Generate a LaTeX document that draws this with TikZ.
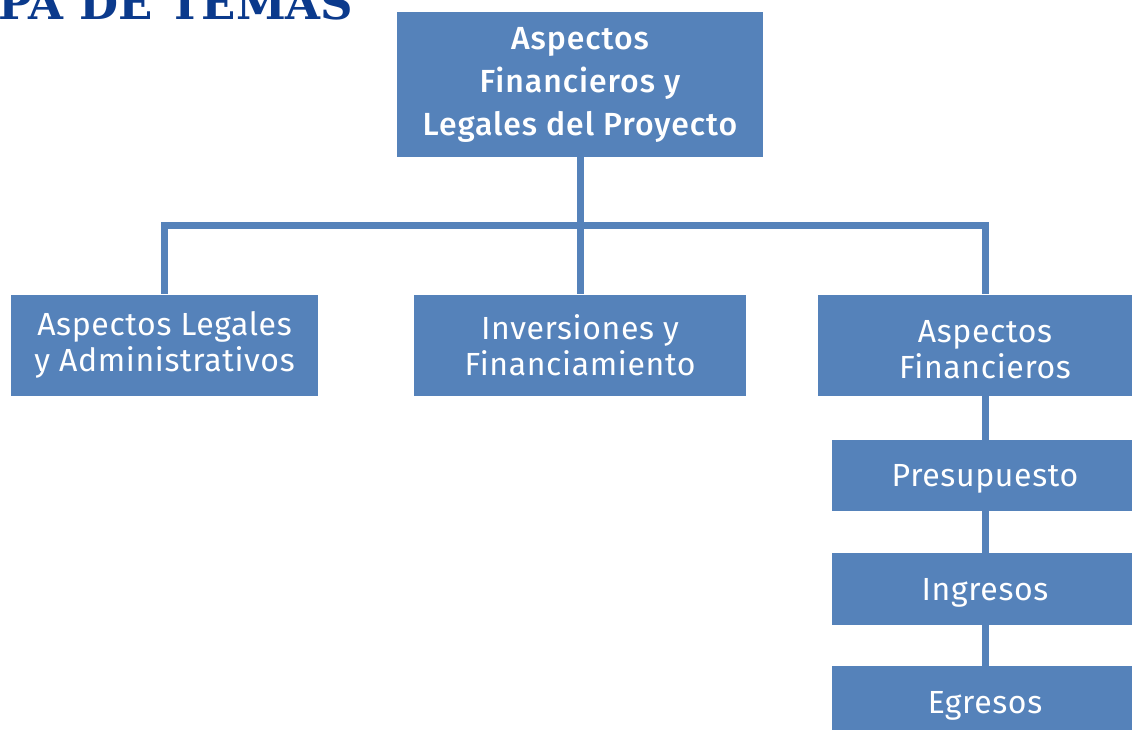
\documentclass[tikz,border=0pt]{standalone}
\usepackage{fontspec}
\setmainfont{Fira Sans}[LetterSpace=2]
\newfontfamily\medfont{Fira Sans Medium}[LetterSpace=3]
\newfontfamily\titlefont{DejaVu Serif}
\definecolor{boxblue}{HTML}{5582BA}
\definecolor{titleblue}{HTML}{0B3A8C}

\begin{document}
\begin{tikzpicture}[x=1pt,y=-1pt]

        \useasboundingbox (0,0) rectangle (1132,729);
        \clip (0,0) rectangle (1132,729);

        \node[anchor=base west,text=titleblue,inner sep=0pt,
              font=\titlefont\bfseries\fontsize{45}{45}\selectfont] (0) at (-2,19) {PA DE TEMAS};

        \begin{scope}[every node/.style={rectangle,fill=boxblue,text=white,align=center,
                      inner sep=0pt,font=\fontsize{32}{36}\selectfont}]
          \node[minimum width=366,minimum height=145,font=\medfont\fontsize{32}{43}\selectfont]
                (1) at (580,84.5) {Aspectos\\Financieros y\\Legales del Proyecto};
          \node[minimum width=307,minimum height=101] (2) at (164.5,345) {Aspectos Legales\\y Administrativos};
          \node[minimum width=332,minimum height=101] (3) at (580,345) {Inversiones y\\Financiamiento};
          \node[minimum width=334,minimum height=101] (4) at (985,345) {\rule{0pt}{32pt}Aspectos\\Financieros};
        \end{scope}

        \begin{scope}[every node/.style={rectangle,fill=boxblue,text=white,minimum width=306,
                      inner sep=0pt,text height=22pt,text depth=0pt,font=\fontsize{32}{36}\selectfont}]
          \node[minimum height=71] (5) at (985,475.5) {Presupuesto};
          \node[minimum height=72] (6) at (985,589) {Ingresos};
          \node[minimum height=72] (7) at (985,702) {Egresos};
        \end{scope}

        \coordinate (b2) at (164.5,225);
        \coordinate (b4) at (985,225);

        \begin{scope}[every edge/.style={draw=boxblue,line width=7pt}]
          \path (1)  edge (3);
          \path (b2) edge[line cap=rect] (b4);
          \path (b2) edge (2);
          \path (b4) edge (4);
          \path (4)  edge (5);
          \path (5)  edge (6);
          \path (6)  edge (7);
        \end{scope}

      \end{tikzpicture}
\end{document}
